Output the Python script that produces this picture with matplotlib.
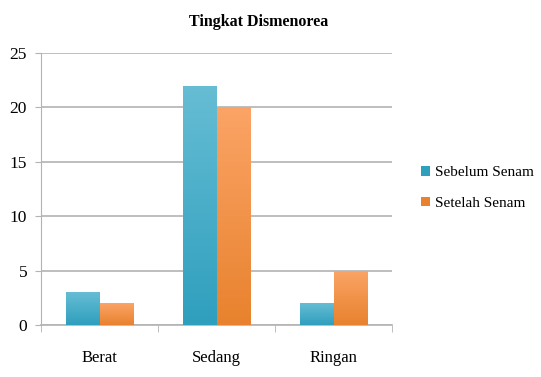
import numpy as np
import matplotlib.pyplot as plt
from matplotlib.patches import Patch
from matplotlib.colors import LinearSegmentedColormap

# kategori dan nilai
kategori = ["Berat", "Sedang", "Ringan"]
sebelum = [3, 22, 2]
setelah = [2, 20, 5]
label_seri = ["Sebelum Senam", "Setelah Senam"]

plt.rcParams['font.family'] = ['Liberation Serif', 'DejaVu Serif']

fig = plt.figure(figsize=(5.41, 3.77), dpi=100)
ax = fig.add_axes([41/541, 1 - 325/377, 351/541, 272/377])

x = np.arange(len(kategori))
lebar = 1 / 3.5

# (warna atas, warna bawah)
warna = [("#66bdd4", "#2f9fbe"), ("#fba466", "#e8822e")]
seri = [sebelum, setelah]

for i, nilai in enumerate(seri):
    bars = ax.bar(x + (i - 0.5) * lebar, nilai, lebar, color=warna[i][1],
                  zorder=3, linewidth=0)
    cmap = LinearSegmentedColormap.from_list("g%d" % i, [warna[i][0], warna[i][1]])
    # gradasi vertikal di tiap batang, terang di atas
    for b in bars:
        x0, y0 = b.get_x(), b.get_y()
        w, h = b.get_width(), b.get_height()
        grad = np.linspace(0, 1, 100).reshape(-1, 1)
        im = ax.imshow(grad, cmap=cmap, aspect='auto', origin='upper',
                       extent=[x0, x0 + w, y0, y0 + h],
                       zorder=4, interpolation='bilinear')
        im.set_clip_path(b)

ax.set_xlim(-0.5, 2.5)
ax.set_ylim(0, 25)
ax.set_yticks([0, 5, 10, 15, 20, 25])
ax.set_xticks(x)
ax.set_xticklabels(kategori)
ax.set_xticks([-0.5, 0.5, 1.5, 2.5], minor=True)

ax.grid(axis='y', color='#b3b3b3', linewidth=1.2, zorder=0)
for s in ['top', 'right']:
    ax.spines[s].set_visible(False)
ax.spines['left'].set_color('#b3b3b3')
ax.spines['bottom'].set_color('#b3b3b3')
ax.spines['bottom'].set_linewidth(1.2)

ax.tick_params(axis='y', length=4, color='#b3b3b3', labelsize=12.5, pad=6)
ax.tick_params(axis='x', which='major', length=0, labelsize=12, pad=18)
ax.tick_params(axis='x', which='minor', length=5, color='#b3b3b3')

fig.text(259/541, 1 - 22/377, "Tingkat Dismenorea", ha='center', va='center',
         fontsize=11.5, fontweight='bold')

handles = [Patch(facecolor=warna[0][1]), Patch(facecolor=warna[1][1])]
fig.legend(handles, label_seri, loc='center left', bbox_to_anchor=(421/541, 1 - 188/377),
           frameon=False, fontsize=11, handlelength=0.6, handleheight=0.6,
           handletextpad=0.3, labelspacing=1.15, borderaxespad=0, borderpad=0)

fig.savefig("out.png", dpi=100)
